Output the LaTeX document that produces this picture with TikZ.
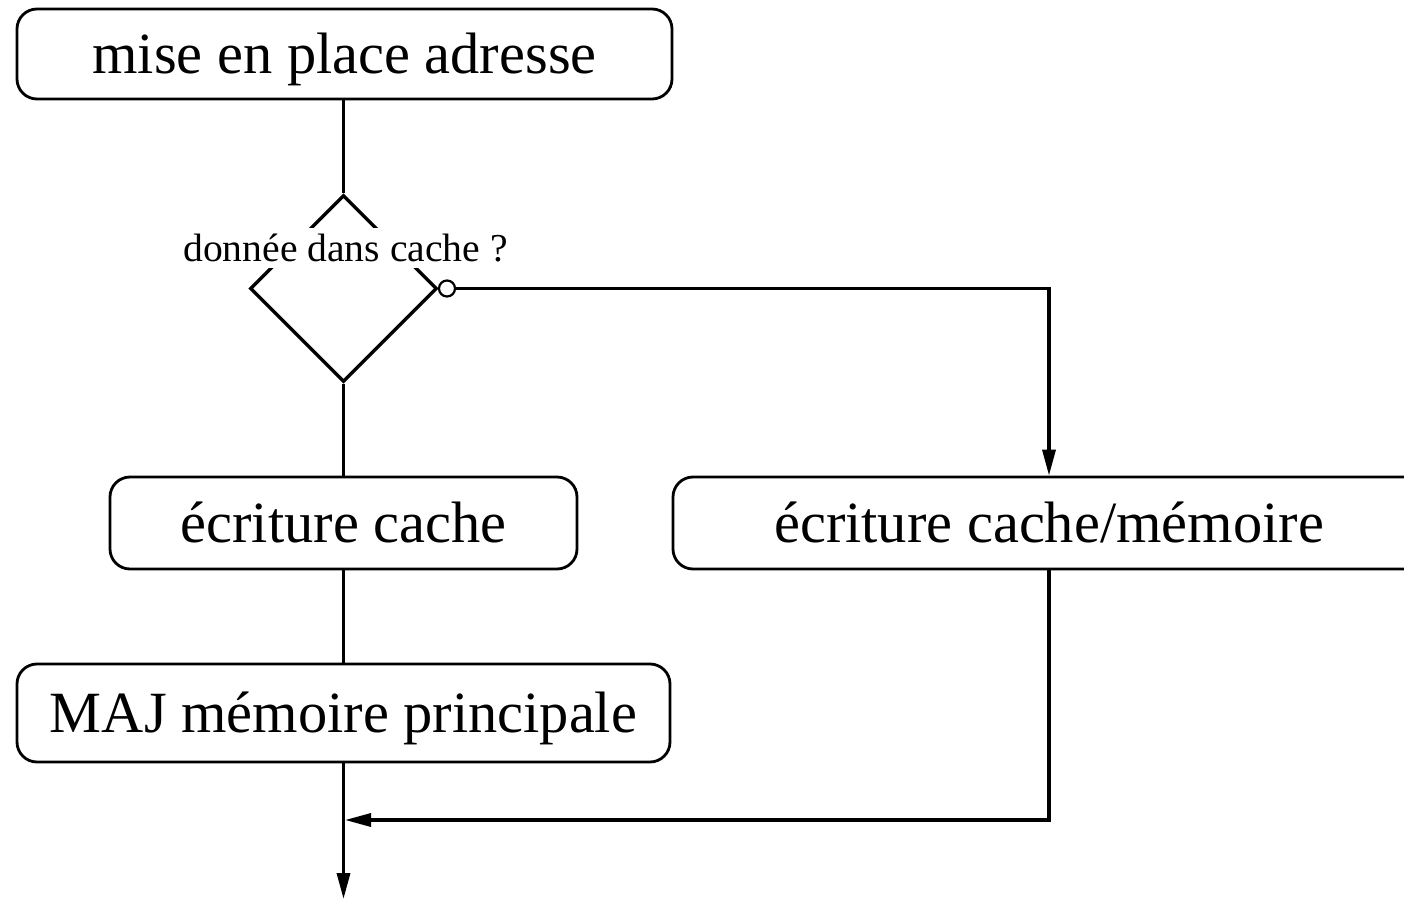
\documentclass[tikz,border=0pt]{standalone}
\usepackage{fontspec}
\setmainfont{Liberation Serif}
\usetikzlibrary{shapes.geometric,arrows.meta}
\begin{document}
\begin{tikzpicture}[x=0.5pt,y=-0.5pt,
  box/.style={draw,line width=1.4pt,rounded corners=10pt,
    font=\fontsize{29.2}{35}\selectfont,inner sep=0pt,text depth=0.1em},
  link/.style={line width=1.7pt},
  arr/.style={link,-{Triangle[length=13pt,width=6.5pt]}},
  ]
\useasboundingbox (0,0) rectangle (1404,899);
\clip (0,0) rectangle (1404,899);

% process boxes
\node[box,minimum width=327.5pt,minimum height=45pt] (addr) at (344.5,54) {mise en place adresse};
\node[box,minimum width=233.5pt,minimum height=46pt] (wc) at (343.5,523) {écriture cache};
\node[box,minimum width=376pt,minimum height=46pt] (wcm) at (1049,523) {écriture cache/mémoire};
\node[box,minimum width=326.5pt,minimum height=49pt] (maj) at (343.5,713) {MAJ mémoire principale};

% decision
\node[diamond,draw,line width=1.7pt,minimum width=93.5pt,minimum height=93.5pt,
  inner sep=0pt] (test) at (343.5,288.5) {};
\node[fill=white,inner xsep=2pt,inner ysep=3pt,
  font=\fontsize{19.8}{24}\selectfont] (q) at (345.5,248) {donnée dans cache ?};
\node[circle,draw,fill=white,line width=1.1pt,minimum size=8pt,inner sep=0pt]
  (no) at (447,288.5) {};

% free ends of the flow
\coordinate (join) at (345,820);
\coordinate (out) at (343.5,899);

% connectors
\draw[link] (test.north |- addr.south) -- (test.north);
\draw[link] (test.south) -- (wc.north);
\draw[link] (wc.south) -- (maj.north);
\draw[arr] (maj.south) -- (out);
\draw[arr] (no.east) -| (wcm.north);
\draw[arr] (wcm.south) |- (join);
\end{tikzpicture}
\end{document}
